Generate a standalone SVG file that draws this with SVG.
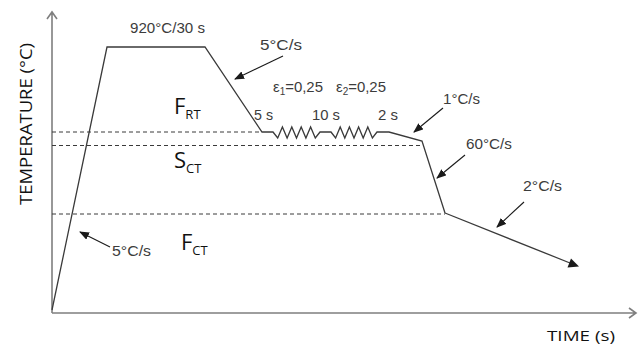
<svg xmlns="http://www.w3.org/2000/svg" width="644" height="347" viewBox="0 0 644 347">
  <style>
    .axis { stroke: #7f7f7f; stroke-width: 1.6; fill: none; }
    .curve { stroke: #3a3a3a; stroke-width: 1.3; fill: none; stroke-linejoin: miter; }
    .dash { stroke: #3a3a3a; stroke-width: 1; stroke-dasharray: 4 3; fill: none; }
    .ptr { stroke: #1a1a1a; stroke-width: 1.1; fill: none; marker-end: url(#head); }
    .lbl { font-family: "Liberation Sans Narrow", "Liberation Sans", Arial, sans-serif; font-size: 15px; fill: #3c3c3c; }
    .phase { font-family: "Open Sans", "Liberation Sans", sans-serif; font-size: 22px; fill: #111; }
    .psub { font-size: 13px; }
    .sub { font-size: 10px; }
    .title { font-family: "Open Sans", "Liberation Sans", sans-serif; font-size: 15px; fill: #111; }
    .ytitle { font-family: "Open Sans", "Liberation Sans", sans-serif; font-size: 17px; fill: #111; }
  </style>
  <defs>
    <marker id="head" markerWidth="10" markerHeight="8" refX="9" refY="4" orient="auto" markerUnits="userSpaceOnUse">
      <path d="M0,0 L10,4 L0,8 Z" fill="#1a1a1a"/>
    </marker>
  </defs>

  <!-- axes -->
  <g id="axes">
    <path class="axis" d="M52,313 V12 M47,19 L52,12 L57,19"/>
    <path class="axis" d="M52,313 H636 M629,308 L636,313 L629,318"/>
  </g>

  <!-- transformation temperature levels -->
  <g id="levels">
    <path class="dash" d="M52,132 H262"/>
    <path class="dash" d="M52,145.5 H422"/>
    <path class="dash" d="M52,214 H445"/>
  </g>

  <!-- thermomechanical schedule -->
  <g id="schedule">
    <path class="curve" d="M52,310 L107,47 L205,47 L262,132 L273,132
      L277.7,138 L282.4,127 L287.1,138 L291.8,127 L296.5,138 L301.2,127 L305.9,138 L310.6,127 L315.3,138 L320,132
      L331,132
      L335.6,138 L340.2,127 L344.8,138 L349.4,127 L354,138 L358.6,127 L363.2,138 L367.8,127 L372.4,138 L377,132
      L389,132 L422,141 L445,213"/>
    <path class="curve" d="M445,213 L570,263"/>
    <path d="M579,266.5 L567.5,267.5 L571,258.5 Z" fill="#1a1a1a"/>
  </g>

  <!-- rate pointers -->
  <g id="connectors">
    <line class="ptr" x1="283" y1="56" x2="235" y2="79"/>
    <line class="ptr" x1="443" y1="108" x2="414" y2="132"/>
    <line class="ptr" x1="465" y1="155" x2="437" y2="178"/>
    <line class="ptr" x1="524" y1="202" x2="497" y2="227"/>
    <line class="ptr" x1="110" y1="247" x2="80" y2="232"/>
  </g>

  <!-- labels -->
  <g id="labels">
    <text class="lbl" x="130" y="33" textLength="75" lengthAdjust="spacingAndGlyphs">920°C/30 s</text>
    <text class="lbl" x="260" y="50" textLength="42" lengthAdjust="spacingAndGlyphs">5°C/s</text>
    <text class="lbl" x="273" y="92" textLength="50" lengthAdjust="spacingAndGlyphs">ε<tspan class="sub" dy="3">1</tspan><tspan dy="-3">=0,25</tspan></text>
    <text class="lbl" x="336" y="92" textLength="50" lengthAdjust="spacingAndGlyphs">ε<tspan class="sub" dy="3">2</tspan><tspan dy="-3">=0,25</tspan></text>
    <text class="lbl" x="254" y="120" textLength="19" lengthAdjust="spacingAndGlyphs">5 s</text>
    <text class="lbl" x="312" y="120" textLength="28" lengthAdjust="spacingAndGlyphs">10 s</text>
    <text class="lbl" x="378" y="120" textLength="20" lengthAdjust="spacingAndGlyphs">2 s</text>
    <text class="lbl" x="443" y="104" textLength="37" lengthAdjust="spacingAndGlyphs">1°C/s</text>
    <text class="lbl" x="466" y="149" textLength="46" lengthAdjust="spacingAndGlyphs">60°C/s</text>
    <text class="lbl" x="523" y="191" textLength="39" lengthAdjust="spacingAndGlyphs">2°C/s</text>
    <text class="lbl" x="112" y="256" textLength="39" lengthAdjust="spacingAndGlyphs">5°C/s</text>
  </g>

  <!-- phase fields -->
  <g id="phases">
    <text class="phase" x="174" y="114">F<tspan class="psub" dy="5">RT</tspan></text>
    <text class="phase" x="174" y="168">S<tspan class="psub" dy="5">CT</tspan></text>
    <text class="phase" x="181" y="250">F<tspan class="psub" dy="5">CT</tspan></text>
  </g>

  <!-- axis titles -->
  <g id="titles">
    <text class="ytitle" transform="translate(32,124) rotate(-90)" text-anchor="middle" textLength="162" lengthAdjust="spacingAndGlyphs">TEMPERATURE (°C)</text>
    <text class="title" x="547" y="341" textLength="68" lengthAdjust="spacingAndGlyphs">TIME (s)</text>
  </g>
</svg>
